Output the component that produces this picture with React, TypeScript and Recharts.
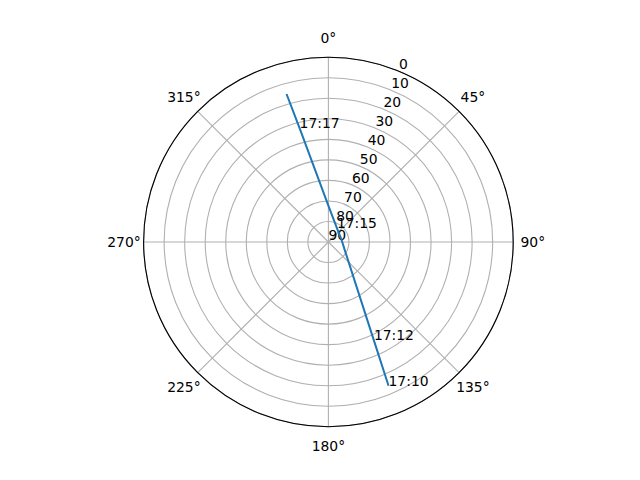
import React from "react"
import {
  RadarChart,
  PolarGrid,
  PolarAngleAxis,
  PolarRadiusAxis,
  Radar,
  ScatterChart,
  Scatter,
  XAxis,
  YAxis,
} from "recharts"

// sky plot: azimuth clockwise from north, elevation 90 at the centre
const DIRECTIONS = ["0°", "45°", "90°", "135°", "180°", "225°", "270°", "315°"]

const TIMES = ["17:10", "17:12", "", "", "17:15", "", "17:17", ""]
const AZIMUTH = [157.3, 155.2, 115.7, 80.5, 31.7, 359.5, 345.8, 344.2]
const ELEVATION = [14.1, 37.2, 81.2, 83.5, 82.1, 71.9, 32.8, 15.1]

const W = 640
const H = 480
const CX = 328.4
const CY = 242
const R = 184.8

const FONT = "DejaVu Sans"
const FS = 13.9

const gridData = DIRECTIONS.map((d) => ({ dir: d, zero: 0 }))

const track = AZIMUTH.map((az, i) => {
  const zen = 90 - ELEVATION[i]
  const a = (az * Math.PI) / 180
  return { x: zen * Math.sin(a), y: zen * Math.cos(a), label: TIMES[i] }
})
const labelled = track.filter((p) => p.label !== "")

const AngleTick = ({ x, y, payload }: any) => (
  <text x={x} y={y + 5} textAnchor="middle" fontFamily={FONT} fontSize={FS} fill="#000">
    {payload.value}
  </text>
)

const RadiusTick = ({ x, y, payload }: any) => (
  <text x={x} y={y - 2.5} textAnchor="start" fontFamily={FONT} fontSize={FS} fill="#000">
    {90 - payload.value}
  </text>
)

const NoDot = () => <g />

const TimeLabel = ({ cx, cy, payload }: any) => (
  <text x={cx} y={cy} textAnchor="start" fontFamily={FONT} fontSize={FS} fill="#000">
    {payload.label}
  </text>
)

export default function App() {
  return (
    <div style={{ position: "absolute", left: 0, top: 0, width: W, height: H, background: "#fff" }}>
      <div style={{ position: "absolute", left: 0, top: 0 }}>
        <RadarChart
          width={W}
          height={H}
          data={gridData}
          cx={CX}
          cy={CY}
          innerRadius={0}
          outerRadius={R}
          startAngle={90}
          endAngle={-270}
          margin={{ top: 0, right: 0, bottom: 0, left: 0 }}
        >
          <PolarGrid gridType="circle" stroke="#b0b0b0" strokeWidth={1.1} />
          <PolarAngleAxis
            dataKey="dir"
            tick={<AngleTick />}
            tickLine={false}
            tickSize={19.6}
            axisLineType="circle"
            axisLine={{ stroke: "#000", strokeWidth: 1.1 }}
          />
          <PolarRadiusAxis
            type="number"
            domain={[0, 90]}
            tickCount={10}
            angle={67.5}
            axisLine={false}
            tickLine={false}
            tick={<RadiusTick />}
          />
          <Radar dataKey="zero" stroke="none" fill="none" isAnimationActive={false} />
        </RadarChart>
      </div>
      <div style={{ position: "absolute", left: 0, top: 0 }}>
        <ScatterChart
          width={W}
          height={H}
          margin={{ top: CY - R, left: CX - R, right: W - CX - R, bottom: H - CY - R }}
        >
          <XAxis type="number" dataKey="x" domain={[-90, 90]} allowDataOverflow hide />
          <YAxis type="number" dataKey="y" domain={[-90, 90]} allowDataOverflow hide />
          <Scatter
            data={track}
            line={{ stroke: "#1f77b4", strokeWidth: 2 }}
            lineType="joint"
            shape={<NoDot />}
            isAnimationActive={false}
          />
          <Scatter data={labelled} shape={<TimeLabel />} isAnimationActive={false} />
        </ScatterChart>
      </div>
    </div>
  )
}
